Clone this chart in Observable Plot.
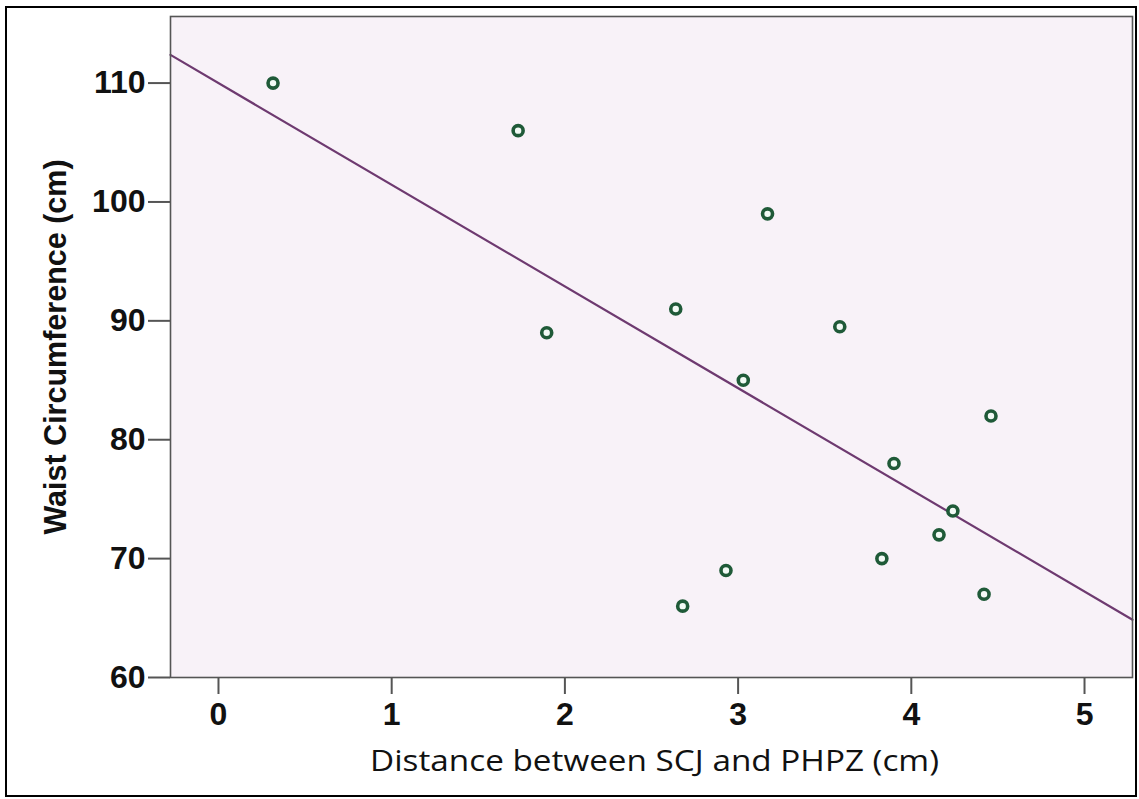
<!DOCTYPE html>
<html>
<head>
<meta charset="utf-8">
<script src="https://cdn.jsdelivr.net/npm/d3@7"></script>
<script src="https://cdn.jsdelivr.net/npm/@observablehq/plot@0.6"></script>
<style>
  html, body { margin: 0; padding: 0; background: #fff; }
  #wrap { position: relative; width: 1139px; height: 799px; overflow: hidden; }
  #border { position: absolute; left: 5px; top: 6px; width: 1128px; height: 787px; border: 2px solid #000; pointer-events: none; }
  #chart { position: absolute; left: 0; top: 0; }
</style>
</head>
<body>
<div id="wrap"><div id="chart"></div><div id="border"></div></div>
<script>
// Data
const distance = [0.315, 1.73, 1.895, 2.64, 3.17, 3.03, 3.587, 4.46, 3.90, 4.24, 4.16, 3.83, 2.93, 2.68, 4.42];
const waist    = [110,   106,  89,    91,   99,   85,   89.5,  82,   78,   74,   72,   70,   69,   66,   67];
// Fitted line end points (as drawn across the plot area)
const fitX = [-0.277, 5.277];
const fitY = [112.37, 64.86];
const xTicks = [0, 1, 2, 3, 4, 5];
const yTicks = [60, 70, 80, 90, 100, 110];
const xLabel = "Distance between SCJ and PHPZ (cm)";
const yLabel = "Waist Circumference (cm)";

const points = distance.map((d, i) => ({x: d, y: waist[i]}));
const fit = fitX.map((d, i) => ({x: d, y: fitY[i]}));

const boldFont = "Liberation Sans, Arial, sans-serif";

const chart = Plot.plot({
  width: 1139,
  height: 799,
  marginLeft: 170,
  marginRight: 7,
  marginTop: 16,
  marginBottom: 122,
  style: {background: "transparent", overflow: "visible"},
  x: {domain: [-0.277, 5.277]},
  y: {domain: [60, 115.6]},
  marks: [
    Plot.frame({fill: "#f8f2f8", stroke: "none"}),
    Plot.line(fit, {x: "x", y: "y", stroke: "#6e3a70", strokeWidth: 2.2}),
    Plot.dot(points, {x: "x", y: "y", r: 5, stroke: "#1f5a38", strokeWidth: 3.6, fill: "#f2faf5"}),
    Plot.frame({stroke: "#555", strokeWidth: 1.6}),
    Plot.axisX(xTicks, {
      tickSize: 17, tickPadding: 8, strokeWidth: 2, stroke: "#555", fill: "#111",
      tickFormat: d3.format("d"),
      fontSize: 32, fontWeight: "bold", fontFamily: boldFont, label: null
    }),
    Plot.axisY(yTicks, {
      tickSize: 22, tickPadding: 3, strokeWidth: 2, stroke: "#555", fill: "#111",
      tickFormat: d3.format("d"),
      fontSize: 32, fontWeight: "bold", fontFamily: boldFont, label: null
    }),
    Plot.text([xLabel], {
      text: d => d, frameAnchor: "bottom", textAnchor: "middle", lineAnchor: "middle", dy: 84, dx: 3,
      fontSize: 29, fontWeight: 500, fontFamily: "Open Sans, sans-serif", fill: "#111"
    }),
    Plot.text([yLabel], {
      text: d => d, frameAnchor: "left", textAnchor: "middle", rotate: -90, lineAnchor: "middle", dx: -114,
      fontSize: 30.5, fontWeight: "bold", fontFamily: boldFont, fill: "#111"
    })
  ]
});
// Stretch the x-axis title to the width it has in the reference
d3.select(chart).selectAll("text")
  .filter(function () { return this.textContent === xLabel; })
  .attr("textLength", 569)
  .attr("lengthAdjust", "spacingAndGlyphs");
document.getElementById("chart").appendChild(chart);
</script>
</body>
</html>
